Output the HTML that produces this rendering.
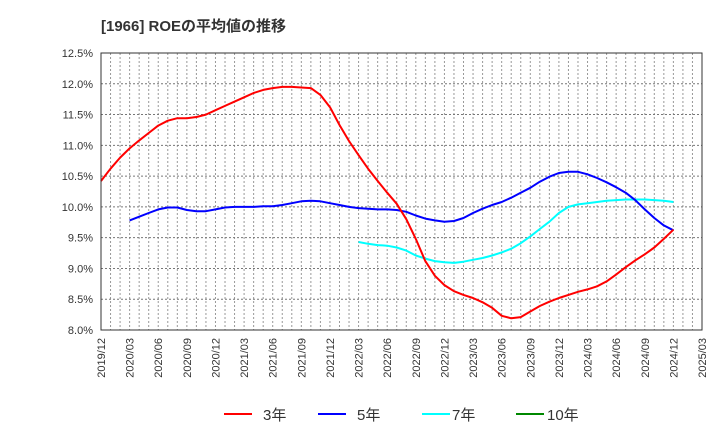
<!DOCTYPE html>
<html><head><meta charset="utf-8"><style>
body{margin:0;background:#fff;}
svg{display:block;font-family:"Liberation Sans","Noto Sans CJK JP",sans-serif;}
</style></head><body>
<svg id="c" width="720" height="440" viewBox="0 0 720 440">
<text x="101" y="31" font-size="15" font-weight="bold" fill="#333">[1966]  ROEの平均値の推移</text>
<g id="grid"></g><g id="series"></g><g id="axes"></g>
<g font-size="15" fill="#333">
<g><line x1="224" y1="414" x2="252" y2="414" stroke="#f00" stroke-width="2"/><text x="263" y="420">3年</text></g>
<g><line x1="318" y1="414" x2="346" y2="414" stroke="#00f" stroke-width="2"/><text x="357" y="420">5年</text></g>
<g><line x1="422" y1="414" x2="450" y2="414" stroke="#0ff" stroke-width="2"/><text x="452" y="420">7年</text></g>
<g><line x1="516" y1="414" x2="544" y2="414" stroke="#080" stroke-width="2"/><text x="547" y="420">10年</text></g>
</g>
</svg>
<script>
const xTickLabels=["2019/12","2020/03","2020/06","2020/09","2020/12","2021/03","2021/06","2021/09","2021/12","2022/03","2022/06","2022/09","2022/12","2023/03","2023/06","2023/09","2023/12","2024/03","2024/06","2024/09","2024/12","2025/03"];
const yTicks=[8.0,8.5,9.0,9.5,10.0,10.5,11.0,11.5,12.0,12.5];
const roe3=[10.42,10.62,10.80,10.95,11.08,11.20,11.32,11.40,11.44,11.44,11.46,11.50,11.57,11.64,11.71,11.78,11.85,11.90,11.93,11.95,11.95,11.94,11.93,11.82,11.62,11.33,11.07,10.84,10.62,10.42,10.23,10.05,9.80,9.48,9.12,8.88,8.73,8.63,8.57,8.52,8.45,8.36,8.23,8.19,8.21,8.30,8.39,8.46,8.52,8.57,8.62,8.66,8.71,8.79,8.90,9.02,9.13,9.23,9.34,9.48,9.63];
const roe3Start=0;
const roe5=[9.78,9.84,9.90,9.96,9.99,9.99,9.95,9.93,9.93,9.96,9.99,10.00,10.00,10.00,10.01,10.01,10.03,10.06,10.09,10.10,10.09,10.06,10.03,10.00,9.98,9.97,9.96,9.96,9.95,9.92,9.86,9.81,9.78,9.76,9.77,9.82,9.90,9.97,10.03,10.08,10.15,10.23,10.31,10.41,10.49,10.55,10.57,10.57,10.53,10.47,10.40,10.32,10.23,10.11,9.96,9.82,9.70,9.62];
const roe5Start=3;
const roe7=[9.43,9.40,9.38,9.37,9.34,9.29,9.21,9.16,9.12,9.10,9.09,9.11,9.14,9.17,9.21,9.26,9.32,9.41,9.52,9.64,9.76,9.90,10.00,10.04,10.06,10.08,10.10,10.11,10.12,10.12,10.12,10.11,10.10,10.08];
const roe7Start=27;
const X0=101,X1=702,Y0=330,Y1=53,NM=63;
function xs(m){return X0+(X1-X0)*m/NM;}
function ys(v){return Y0-(v-8)/(12.5-8)*(Y0-Y1);}
const NS="http://www.w3.org/2000/svg";
function mk(t,a,p){const e=document.createElementNS(NS,t);for(const k in a)e.setAttribute(k,a[k]);p.appendChild(e);return e;}
const grid=document.getElementById('grid'),axes=document.getElementById('axes'),ser=document.getElementById('series');
for(let m=1;m<NM;m++){const l=mk('line',{x1:xs(m),x2:xs(m),y1:Y1,y2:Y0,stroke:'#999','stroke-dasharray':'2,2','stroke-width':1},grid);

}
yTicks.forEach(v=>{const l=mk('line',{x1:X0,x2:X1,y1:ys(v),y2:ys(v),stroke:'#777','stroke-dasharray':'2,2','stroke-width':1},grid);


const t=mk('text',{x:X0-8,y:ys(v)+4,'font-size':11,fill:'#333','text-anchor':'end'},axes);
t.textContent=v.toFixed(1)+'%';

});
xTickLabels.forEach((s,i)=>{const x=xs(i*3);const t=mk('text',{x:0,y:0,'font-size':11,fill:'#333','text-anchor':'end',transform:`translate(${x+4},${Y0+8}) rotate(-90)`},axes);
t.textContent=s;

});
const fr=mk('rect',{x:X0,y:Y1,width:X1-X0,height:Y0-Y1,fill:'none',stroke:'#333','stroke-width':1},axes);


function line(arr,start,color,name){const pts=arr.map((v,i)=>xs(start+i).toFixed(1)+','+ys(v).toFixed(1)).join(' ');
const p=mk('polyline',{points:pts,fill:'none',stroke:color,'stroke-width':2,'stroke-linejoin':'round'},ser);

}
line(roe7,roe7Start,'#0ff','series-7y');
line(roe5,roe5Start,'#00f','series-5y');
line(roe3,roe3Start,'#f00','series-3y');
</script>
</body></html>
